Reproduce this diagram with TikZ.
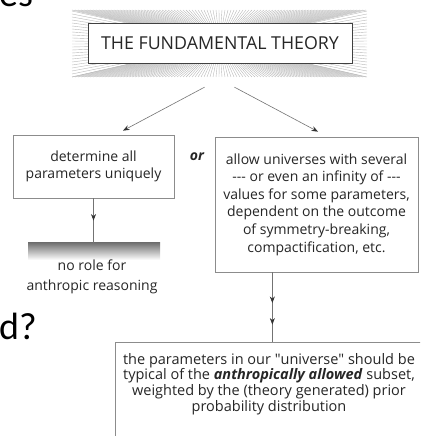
\documentclass[tikz,border=0pt]{standalone}
\usepackage{fontspec}
\setmainfont{Open Sans}
\newfontfamily\slidefont{Carlito}
\usetikzlibrary{arrows.meta, calc, decorations.markings}

\tikzset{
  frame/.style={draw=black!45, line width=0.7pt, fill=white, inner sep=0pt},
  txt/.style={align=center, text=black!85, font=\fontsize{14}{17.6}\selectfont},
  ray/.style={draw=black!28, line width=0.4pt},
  conn/.style={draw=black!55, line width=0.6pt},
  tip/.tip={Stealth[length=6.5pt,width=5pt,color=black!80]},
  arr/.style={conn, -tip},
  slide/.style={anchor=base west, inner sep=0pt, font=\slidefont\fontsize{38}{40}\selectfont},
}

\begin{document}
\begin{tikzpicture}[x=1pt, y=1pt]
  \useasboundingbox (0,0) rectangle (420,436);
  \clip (0,0) rectangle (420,436);

  % bits of the slide around the picture
  \node[slide] (es) at (-1,429) {es};
  \node[slide] (dq) at (-1,96) {d?};

  % halo round the theory box
  \node[inner sep=0pt, minimum width=295pt, minimum height=67pt] (halo) at (219.5,392.5) {};
  \foreach \x in {72,75,...,366} {
    \draw[ray] (\x,426) -- (halo.center);
    \draw[ray] (\x,359) -- (halo.center);
  }
  \foreach \y in {359,362,...,426} {
    \draw[ray] (72,\y) -- (halo.center);
    \draw[ray] (367,\y) -- (halo.center);
  }
  \node[frame, draw=black!75, minimum width=264pt, minimum height=40pt,
        font=\fontsize{17.8}{20}\selectfont, text=black!85] (thy) at (220,393) {THE FUNDAMENTAL THEORY};

  % the two branches
  \node[frame, txt, minimum width=161pt, minimum height=63pt] (det) at (93.5,269.5)
    {determine all\\parameters uniquely};
  \node[txt, font=\bfseries\itshape\fontsize{14}{16}\selectfont] (orw) at (197,279) {or};
  \node[frame, txt, minimum width=203pt, minimum height=135pt] (allow) at (316.5,231.5)
    {allow universes with several\\\mbox{-{}-{}-} or even an infinity of \mbox{-{}-{}-}\\values for some parameters,\\dependent on the outcome\\of symmetry-breaking,\\compactification, etc.};

  \draw[arr] ($(halo.south)+(-15,-10)$) -- ($(det.north)+(29.5,4)$);
  \draw[arr] ($(halo.south)+(15,-10)$) -- ($(allow.north)+(1.5,5)$);

  % left outcome
  \node[inner sep=0pt, minimum width=132pt, minimum height=17pt,
        top color=black!55, bottom color=white] (bar) at (94,184.5) {};
  \node[txt] (norole) at (92,159) {no role for\\[2pt]anthropic reasoning};
  \draw[conn, postaction={decorate}, decoration={markings,
        mark=at position 0.5 with {\arrow{tip}}}]
    (det.south) -- (det.south |- bar.north);

  % right outcome
  \node[frame, anchor=north west, minimum width=314pt, minimum height=110pt] (typbox) at (115,94) {};
  \node[txt, font=\fontsize{14.5}{15.7}\selectfont] (typical) at (269,52)
    {the parameters in our \textquotedbl universe\textquotedbl{} should be\\
     typical of the \textbf{\textit{anthropically allowed}} subset,\\
     weighted by the (theory generated) prior\\
     probability distribution};
  \draw[conn, postaction={decorate}, decoration={markings,
        mark=at position 0.44 with {\arrow{tip}},
        mark=at position 0.75 with {\arrow{tip}}}]
    (allow.south -| typbox.north) -- (typbox.north);
\end{tikzpicture}
\end{document}
